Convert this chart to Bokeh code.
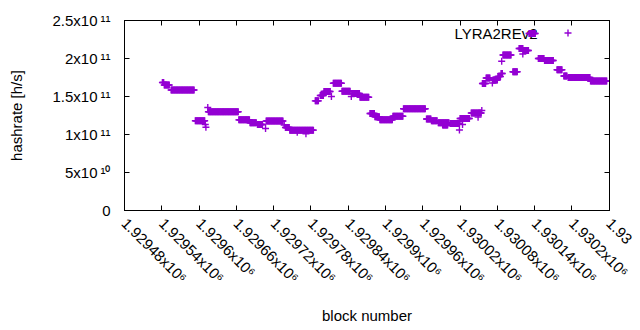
import math
from bokeh.plotting import figure
from bokeh.models import ColumnDataSource, FixedTicker, LinearAxis, Range1d, Label
from bokeh.embed import file_html
from bokeh.resources import INLINE

# ---- data (runs of consecutive blocks sharing one hashrate estimate) ----
run_start = [1929541, 1929544, 1929555, 1929594, 1929610, 1929611, 1929614, 1929615,
             1929664, 1929682, 1929694, 1929707, 1929708, 1929737, 1929739, 1929746,
             1929758, 1929772, 1929787, 1929795, 1929801, 1929813, 1929816, 1929830,
             1929845, 1929846, 1929859, 1929875, 1929883, 1929891, 1929912, 1929929,
             1929966, 1929974, 1929985, 1929992, 1930004, 1930019, 1930020, 1930024,
             1930038, 1930049, 1930055, 1930056, 1930062, 1930072, 1930073, 1930081,
             1930086, 1930087, 1930089, 1930105, 1930115, 1930121, 1930122, 1930131,
             1930146, 1930156, 1930176, 1930187, 1930194, 1930230]
run_end = [1929543, 1929552, 1929592, 1929609, 1929610, 1929611, 1929614, 1929663,
           1929681, 1929692, 1929702, 1929707, 1929735, 1929737, 1929745, 1929784,
           1929758, 1929772, 1929792, 1929800, 1929811, 1929813, 1929829, 1929843,
           1929845, 1929858, 1929873, 1929882, 1929890, 1929911, 1929928, 1929964,
           1929973, 1929983, 1930002, 1930000, 1930019, 1930019, 1930035, 1930024,
           1930054, 1930049, 1930055, 1930061, 1930068, 1930072, 1930080, 1930085,
           1930088, 1930087, 1930102, 1930112, 1930121, 1930121, 1930130, 1930141,
           1930155, 1930170, 1930184, 1930192, 1930229, 1930256]
run_rate = [1.684e11, 1.651e11, 1.586e11, 1.180e11, 1.132e11, 1.096e11, 1.355e11, 1.299e11,
            1.193e11, 1.154e11, 1.132e11, 1.079e11, 1.178e11, 1.125e11, 1.092e11, 1.057e11,
            1.030e11, 1.009e11, 1.443e11, 1.513e11, 1.566e11, 1.500e11, 1.675e11, 1.570e11,
            1.500e11, 1.539e11, 1.491e11, 1.276e11, 1.233e11, 1.193e11, 1.241e11, 1.338e11,
            1.204e11, 1.180e11, 1.154e11, 1.125e11, 1.145e11, 1.059e11, 1.211e11, 1.132e11,
            1.283e11, 1.228e11, 1.316e11, 1.671e11, 1.743e11, 1.678e11, 1.717e11, 1.763e11,
            1.803e11, 1.964e11, 2.046e11, 1.825e11, 2.132e11, 2.059e11, 2.105e11, 2.329e11,
            2.000e11, 1.974e11, 1.851e11, 1.770e11, 1.750e11, 1.704e11]

x_ticks = [1929480, 1929540, 1929600, 1929660, 1929720, 1929780, 1929840,
           1929900, 1929960, 1930020, 1930080, 1930140, 1930200, 1930260]
# the last label runs off the right edge of the picture; only its start is visible
x_tick_labels = ["1.92948x10\u2076", "1.92954x10\u2076", "1.9296x10\u2076", "1.92966x10\u2076",
                 "1.92972x10\u2076", "1.92978x10\u2076", "1.92984x10\u2076", "1.9299x10\u2076",
                 "1.92996x10\u2076", "1.93002x10\u2076", "1.93008x10\u2076", "1.93014x10\u2076",
                 "1.9302x10\u2076", "1.93"]
y_ticks = [0, 5e10, 1e11, 1.5e11, 2e11, 2.5e11]
y_tick_labels = ["0", "5x10\u2009\u00b9\u2070", "1x10\u2009\u00b9\u00b9", "1.5x10\u2009\u00b9\u00b9",
                 "2x10\u2009\u00b9\u00b9", "2.5x10\u2009\u00b9\u00b9"]
series_name = "LYRA2REv2"
x_title = "block number"
y_title = "hashrate [h/s]"

blocks, rates = [], []
for s, e, r in zip(run_start, run_end, run_rate):
    for b in range(s, e + 1):
        blocks.append(b)
        rates.append(r)

FONT = "Liberation Sans"
FS = "15px"
COLOR = "#9400D3"

x0, x1 = x_ticks[0], x_ticks[-1]
y0, y1 = y_ticks[0], y_ticks[-1]
FW, FH = 485, 190
x_end = x1 + 0.5                # keep the last tick just inside the range
sx = (x_end - x0) / FW

p = figure(width=640, height=330, frame_width=FW, frame_height=FH,
           min_border_left=124, min_border_right=31, min_border_top=20, min_border_bottom=120,
           x_range=Range1d(x0, x_end), y_range=Range1d(y0, y1),
           output_backend="svg", toolbar_location=None,
           x_axis_label=x_title, y_axis_label=y_title)
p.xgrid.visible = False
p.ygrid.visible = False
p.outline_line_color = "black"
p.outline_line_width = 1
p.background_fill_color = "white"
p.border_fill_color = "white"

def px_y(dy):
    return dy / FH * (y1 - y0)

# key text (drawn beneath the data as in the original)
key_y = y1 - px_y(12.5)
p.add_layout(Label(x=x_end - 72 * sx, y=key_y, text=series_name, text_align="right",
                   text_baseline="middle", text_font=FONT, text_font_size=FS,
                   text_color="black", level="underlay"))

src = ColumnDataSource(dict(x=blocks, y=rates))
p.scatter("x", "y", source=src, marker="cross", size=7, line_color=COLOR, line_width=1.4)

key_src = ColumnDataSource(dict(x=[x_end - 41.5 * sx], y=[key_y]))
p.scatter("x", "y", source=key_src, marker="cross", size=7, line_color=COLOR, line_width=1.4)

# ---- axes: inward ticks, mirrored on top/right ----
xt = FixedTicker(ticks=x_ticks, minor_ticks=[])
yt = FixedTicker(ticks=y_ticks, minor_ticks=[])

def style(ax, ticker, labels):
    ax.ticker = ticker
    ax.major_tick_in = 5
    ax.major_tick_out = 0
    ax.minor_tick_in = 0
    ax.minor_tick_out = 0
    ax.axis_line_color = "black"
    ax.major_tick_line_color = "black"
    if labels is None:
        ax.major_label_overrides = {t: "" for t in ticker.ticks}
        ax.major_label_text_color = None
        ax.major_label_standoff = 0
    else:
        ax.major_label_overrides = {t: l for t, l in zip(ticker.ticks, labels)}
        ax.major_label_text_font = FONT
        ax.major_label_text_font_size = FS
        ax.major_label_text_color = "black"
        ax.axis_label_text_font = FONT
        ax.axis_label_text_font_size = FS
        ax.axis_label_text_font_style = "normal"
        ax.axis_label_text_color = "black"

xa = p.xaxis[0]
ya = p.yaxis[0]
style(xa, xt, x_tick_labels)
style(ya, yt, y_tick_labels)
xa.major_label_orientation = -math.pi / 4
xa.major_label_standoff = 10
xa.axis_label_standoff = 12
ya.major_label_standoff = 14
ya.axis_label_standoff = 24

top = LinearAxis()
style(top, xt, None)
p.add_layout(top, "above")
right = LinearAxis()
style(right, yt, None)
p.add_layout(right, "right")

open("out.html", "w").write(file_html(p, INLINE))
